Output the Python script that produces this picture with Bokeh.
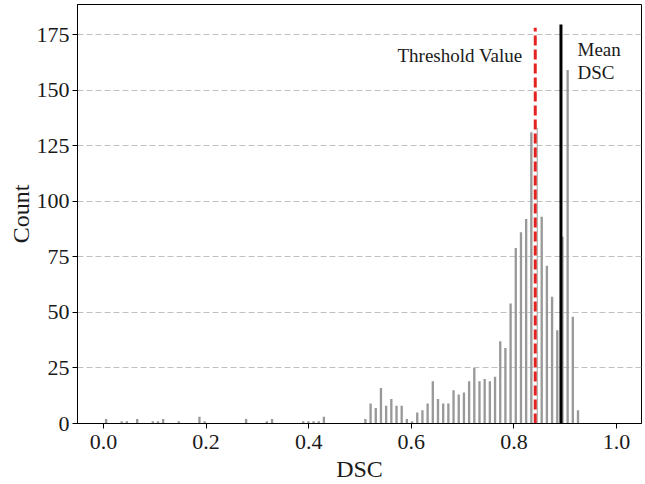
import numpy as np
from bokeh.plotting import figure
from bokeh.models import Range1d, Label
from bokeh.embed import file_html
from bokeh.resources import INLINE

# Histogram counts per bin (bins span DSC 0.00 .. 0.93)
counts = [2, 0, 0, 1, 1, 0, 2, 0, 0, 1,
          1, 2, 0, 0, 1, 0, 0, 0, 3, 1,
          0, 0, 0, 0, 0, 0, 0, 2, 0, 0,
          0, 1, 2, 0, 0, 0, 0, 0, 1, 1,
          1, 1, 3, 0, 0, 0, 0, 0, 0, 0,
          2, 9, 7, 16, 8, 11, 8, 8, 2, 1,
          5, 6, 9, 19, 11, 9, 9, 15, 13, 14,
          19, 25, 19, 20, 19, 21, 37, 34, 54, 79,
          86, 92, 131, 133, 93, 71, 57, 42, 84, 159,
          48, 6]
bin_lo = 0.0
bin_hi = 0.93
threshold_value = 0.8416
mean_dsc = 0.8917
x_ticks = [0.0, 0.2, 0.4, 0.6, 0.8, 1.0]
x_tick_labels = ["0.0", "0.2", "0.4", "0.6", "0.8", "1.0"]
y_ticks = [0, 25, 50, 75, 100, 125, 150, 175]
annot_threshold = "Threshold Value"
annot_mean = ["Mean", "DSC"]

edges = np.linspace(bin_lo, bin_hi, len(counts) + 1)
centers = (edges[:-1] + edges[1:]) / 2
bar_w = (edges[1] - edges[0]) * 0.45

FONT = "Liberation Serif"

p = figure(width=645, height=484, output_backend="svg", toolbar_location=None,
           x_range=Range1d(-0.0507, 1.0487), y_range=Range1d(0, 188.5),
           min_border_left=77, min_border_right=4, min_border_top=4,
           min_border_bottom=60)

p.vbar(x=centers, top=counts, width=bar_w, fill_color="#999999",
       line_color=None)

# threshold line (white under-stroke, red dashes)
p.segment(x0=[threshold_value], y0=[0], x1=[threshold_value], y1=[178],
          line_color="white", line_width=3)
p.segment(x0=[threshold_value], y0=[0], x1=[threshold_value], y1=[178],
          line_color="#e3231f", line_width=3, line_dash="10 4")
# mean line
p.segment(x0=[mean_dsc], y0=[0], x1=[mean_dsc], y1=[179.5],
          line_color="black", line_width=3)

p.add_layout(Label(x=0.8168, y=165.6, text=annot_threshold, text_align="right",
                   text_baseline="alphabetic", text_font=FONT,
                   text_font_size="19px", text_color="#1a1a1a"))
p.add_layout(Label(x=0.924, y=168.1, text=annot_mean[0], text_align="left",
                   text_baseline="alphabetic", text_font=FONT,
                   text_font_size="19px", text_color="#1a1a1a"))
p.add_layout(Label(x=0.924, y=157.9, text=annot_mean[1], text_align="left",
                   text_baseline="alphabetic", text_font=FONT,
                   text_font_size="19px", text_color="#1a1a1a"))

p.xaxis.ticker = x_ticks
p.xaxis.major_label_overrides = {t: s for t, s in zip(x_ticks, x_tick_labels)}
p.yaxis.ticker = y_ticks
p.xaxis.axis_label = "DSC"
p.yaxis.axis_label = "Count"

for ax in (p.xaxis, p.yaxis):
    ax.axis_label_text_font = FONT
    ax.axis_label_text_font_size = "24px"
    ax.axis_label_text_font_style = "normal"
    ax.axis_label_text_color = "#1a1a1a"
    ax.major_label_text_font = FONT
    ax.major_label_text_font_size = "22px"
    ax.major_label_text_color = "#1a1a1a"
    ax.major_tick_out = 5
    ax.major_tick_in = 0
    ax.minor_tick_line_color = None
    ax.axis_line_color = "black"
    ax.major_tick_line_color = "black"
p.xaxis.major_label_standoff = 6
p.xaxis.axis_label_standoff = 4
p.yaxis.major_label_standoff = 3
p.yaxis.axis_label_standoff = 0

p.xgrid.grid_line_color = None
p.ygrid.grid_line_color = "#c0c0c0"
p.ygrid.grid_line_dash = "6 3"
p.ygrid.grid_line_width = 1

p.outline_line_color = "black"
p.outline_line_alpha = 1
p.outline_line_width = 1
p.background_fill_color = "white"
p.border_fill_color = "white"

open("out.html", "w").write(file_html(p, INLINE))
